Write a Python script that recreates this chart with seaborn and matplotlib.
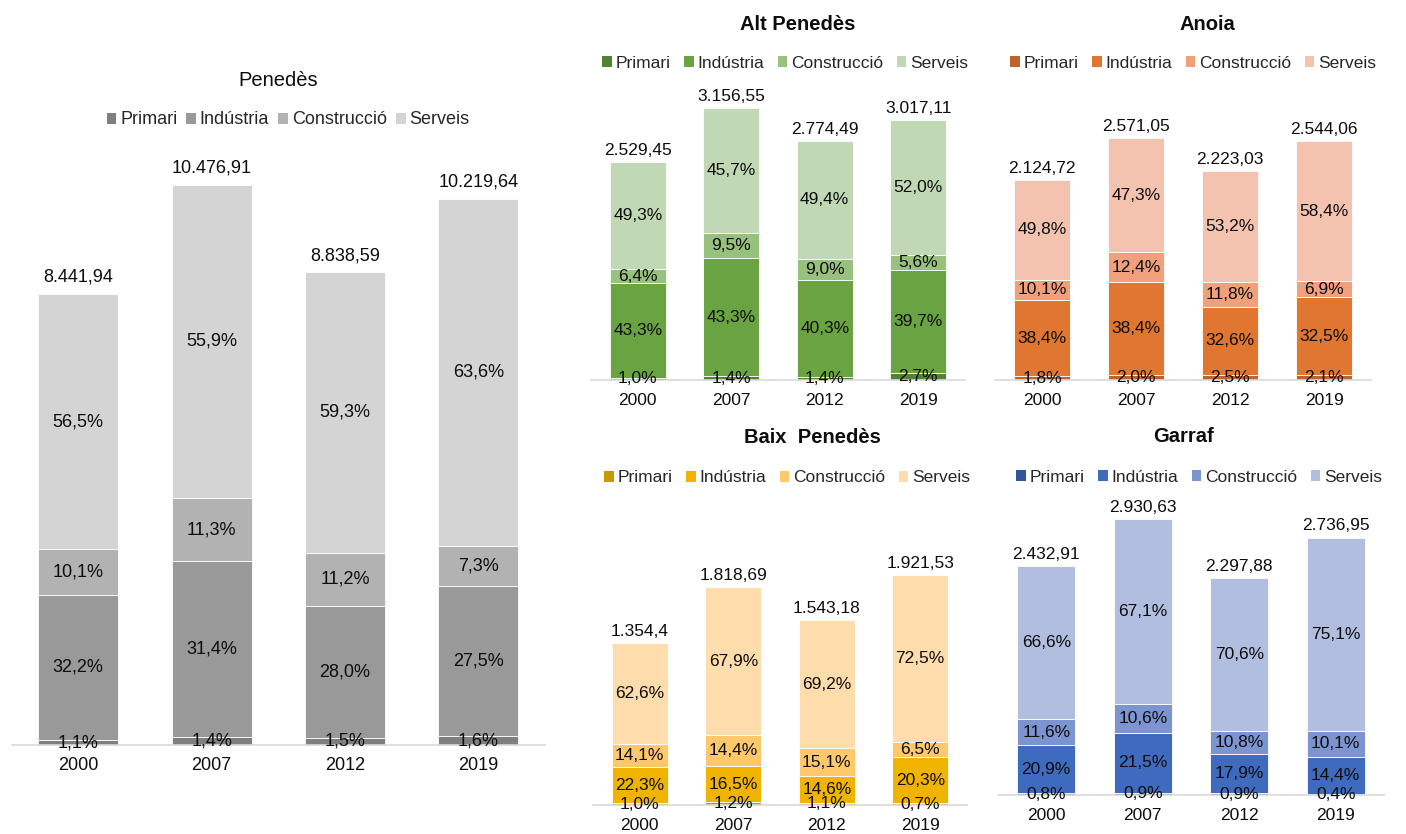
import matplotlib
matplotlib.use("Agg")
import matplotlib.pyplot as plt
from matplotlib.patches import Patch
import seaborn as sns

# ── Dades ────────────────────────────────────────────────────────────────────
years   = ["2000", "2007", "2012", "2019"]
sectors = ["Primari", "Indústria", "Construcció", "Serveis"]

penedes_total = [8441.94, 10476.91, 8838.59, 10219.64]
penedes_pct = [
    [1.1, 1.4, 1.5, 1.6],
    [32.2, 31.4, 28.0, 27.5],
    [10.1, 11.3, 11.2, 7.3],
    [56.5, 55.9, 59.3, 63.6],
]

alt_total = [2529.45, 3156.55, 2774.49, 3017.11]
alt_pct = [
    [1.0, 1.4, 1.4, 2.7],
    [43.3, 43.3, 40.3, 39.7],
    [6.4, 9.5, 9.0, 5.6],
    [49.3, 45.7, 49.4, 52.0],
]

anoia_total = [2124.72, 2571.05, 2223.03, 2544.06]
anoia_pct = [
    [1.8, 2.0, 2.5, 2.1],
    [38.4, 38.4, 32.6, 32.5],
    [10.1, 12.4, 11.8, 6.9],
    [49.8, 47.3, 53.2, 58.4],
]

baix_total = [1354.4, 1818.69, 1543.18, 1921.53]
baix_pct = [
    [1.0, 1.2, 1.1, 0.7],
    [22.3, 16.5, 14.6, 20.3],
    [14.1, 14.4, 15.1, 6.5],
    [62.6, 67.9, 69.2, 72.5],
]

garraf_total = [2432.91, 2930.63, 2297.88, 2736.95]
garraf_pct = [
    [0.8, 0.9, 0.9, 0.4],
    [20.9, 21.5, 17.9, 14.4],
    [11.6, 10.6, 10.8, 10.1],
    [66.6, 67.1, 70.6, 75.1],
]

grey_cols   = ["#7f7f7f", "#999999", "#b2b2b2", "#d4d4d4"]
green_cols  = ["#548235", "#6aa341", "#97c17c", "#c0d9b4"]
orange_cols = ["#c0622a", "#e0762f", "#f0a07b", "#f4c3b0"]
gold_cols   = ["#c89a00", "#f0b400", "#ffc86a", "#ffdcab"]
blue_cols   = ["#2f559a", "#3f6bbf", "#7c94cf", "#b2bee0"]

W, H = 1406, 834

sns.set_style("white")
plt.rcParams["font.family"] = ["Liberation Sans", "DejaVu Sans"]

fig = plt.figure(figsize=(W / 100, H / 100), dpi=100)


def fmt_total(v):
    s = f"{v:,}"
    return s.replace(",", "#").replace(".", ",").replace("#", ".")


def panel(x0, x1, y_base, y_top, ymax, totals, pcts, colors, fs,
          title, title_xy, title_bold, title_fs, leg_xy, total_off, colsp):
    ax = fig.add_axes([x0 / W, (H - y_base) / H, (x1 - x0) / W, (y_base - y_top) / H])
    bottom = [0.0] * len(years)
    for k, name in enumerate(sectors):
        seg = [t * p / 100 for t, p in zip(totals, pcts[k])]
        sns.barplot(x=years, y=seg, bottom=bottom, color=colors[k], width=0.6,
                    saturation=1, edgecolor="white", linewidth=0.6, ax=ax)
        for i, (b, s, p) in enumerate(zip(bottom, seg, pcts[k])):
            ax.text(i, b + s / 2, f"{p:.1f}%".replace(".", ","), ha="center",
                    va="center", fontsize=fs, color="#0d0d0d")
        bottom = [b + s for b, s in zip(bottom, seg)]
    for i, t in enumerate(totals):
        ax.annotate(fmt_total(t), (i, bottom[i]), xytext=(0, total_off),
                    textcoords="offset points", ha="center", va="bottom",
                    fontsize=fs, color="#0d0d0d")
    ax.set_xlim(-0.5, 3.5)
    ax.set_ylim(0, ymax)
    ax.set_yticks([])
    ax.set_xlabel(""); ax.set_ylabel("")
    for sp in ["top", "left", "right"]:
        ax.spines[sp].set_visible(False)
    ax.spines["bottom"].set_color("#d9d9d9")
    ax.spines["bottom"].set_linewidth(1.2)
    ax.tick_params(axis="x", length=0, pad=9, labelsize=fs, labelcolor="#0d0d0d")
    ax.patch.set_alpha(0)

    fig.text(title_xy[0] / W, 1 - title_xy[1] / H, title, ha="center", va="center",
             fontsize=title_fs, fontweight="bold" if title_bold else "normal",
             color="#0d0d0d")
    handles = [Patch(facecolor=c, edgecolor="none") for c in colors]
    ax.legend(handles, sectors, loc="center", ncol=4, frameon=False,
              bbox_to_anchor=(leg_xy[0] / W, 1 - leg_xy[1] / H),
              bbox_transform=fig.transFigure, fontsize=fs,
              handlelength=0.55, handleheight=0.55, handletextpad=0.2,
              columnspacing=colsp, borderaxespad=0)
    return ax


panel(11.6, 545, 745, 103.3, 12000, penedes_total, penedes_pct, grey_cols, 13,
      "Penedès", (278, 80), False, 14.5, (288, 120), 6, 0.5)
panel(591, 965, 380, 69.8, 3600, alt_total, alt_pct, green_cols, 12.5,
      "Alt Penedès", (798, 24), True, 14.5, (785, 63), 3, 0.8)
panel(995, 1371, 380, 70, 3300, anoia_total, anoia_pct, orange_cols, 12.5,
      "Anoia", (1207, 25), True, 14.5, (1193, 63), 3, 0.8)
panel(593, 967, 805, 541.4, 2200, baix_total, baix_pct, gold_cols, 12.5,
      "Baix  Penedès", (812, 438), True, 14.5, (787, 478), 3, 0.8)
panel(998, 1384, 795, 494, 3200, garraf_total, garraf_pct, blue_cols, 12.5,
      "Garraf", (1183, 437), True, 14.5, (1199, 477), 3, 0.8)

fig.savefig("out.png", dpi=100)
plt.close(fig)
